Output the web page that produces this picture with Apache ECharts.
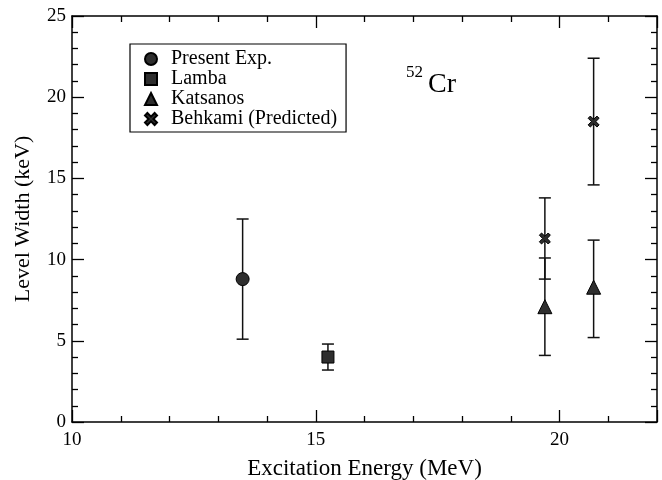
<!DOCTYPE html>
<html>
<head>
<meta charset="utf-8">
<script src="https://cdn.jsdelivr.net/npm/echarts@6/dist/echarts.min.js"></script>
<style>
  html, body { margin: 0; padding: 0; background: #fff; }
  #chart { width: 662px; height: 480px; }
</style>
</head>
<body>
<div id="chart"></div>
<script>
// Level widths of 52Cr versus excitation energy
const seriesNames = ['Present Exp.', 'Lamba', 'Katsanos', 'Behkami (Predicted)'];

// each point: [energy MeV, width keV, lower bound, upper bound]
const presentExp = [[13.5, 8.8, 5.1, 12.5]];
const lamba = [[15.25, 4.0, 3.2, 4.8]];
const katsanos = [[19.7, 7.1, 4.1, 10.1], [20.7, 8.3, 5.2, 11.2]];
const behkami = [[19.7, 11.3, 8.8, 13.8], [20.7, 18.5, 14.6, 22.4]];

const xTicks = [10, 15, 20];
const yTicks = [0, 5, 10, 15, 20, 25];

const SERIF = '"Liberation Serif", "DejaVu Serif", serif';
const INK = '#000';
const crossPath = 'path://M0,2 L2,0 L5,3 L8,0 L10,2 L7,5 L10,8 L8,10 L5,7 L2,10 L0,8 L3,5 Z';
const symbols = ['circle', 'rect', 'triangle', crossPath];

const chart = echarts.init(document.getElementById('chart'), null, { renderer: 'canvas' });

function errorBarSeries(data) {
  return {
    type: 'custom',
    z: 1,
    silent: true,
    data: data.map(d => [d[0], d[2], d[3]]),
    renderItem: function (params, api) {
      const x = api.value(0);
      const lo = api.coord([x, api.value(1)]);
      const hi = api.coord([x, api.value(2)]);
      const cap = 6;
      const style = { stroke: '#111', lineWidth: 1.5 };
      return {
        type: 'group',
        children: [
          { type: 'line', shape: { x1: lo[0], y1: lo[1], x2: hi[0], y2: hi[1] }, style },
          { type: 'line', shape: { x1: lo[0] - cap, y1: lo[1], x2: lo[0] + cap, y2: lo[1] }, style },
          { type: 'line', shape: { x1: hi[0] - cap, y1: hi[1], x2: hi[0] + cap, y2: hi[1] }, style }
        ]
      };
    }
  };
}

function pointSeries(name, data, symbol, size) {
  return {
    name: name,
    type: 'scatter',
    z: 3,
    symbol: symbol,
    symbolSize: size,
    data: data.map(d => [d[0], d[1]]),
    itemStyle: { color: '#2e2e2e', borderColor: '#000', borderWidth: 1, opacity: 1 }
  };
}

const axisCommon = {
  min: 10, max: 22, interval: 5,
  axisLine: { show: true, onZero: false, lineStyle: { color: INK, width: 1.5 } },
  axisTick: { show: true, inside: true, length: 12, lineStyle: { color: INK, width: 1.3 } },
  minorTick: { show: true, splitNumber: 5, length: 6, lineStyle: { color: INK, width: 1.3 } },
  splitLine: { show: false }
};
const yCommon = {
  min: 0, max: 25, interval: 5,
  axisLine: { show: true, onZero: false, lineStyle: { color: INK, width: 1.5 } },
  axisTick: { show: true, inside: true, length: 12, lineStyle: { color: INK, width: 1.3 } },
  minorTick: { show: true, splitNumber: 5, length: 6, lineStyle: { color: INK, width: 1.3 } },
  splitLine: { show: false }
};

const option = {
  backgroundColor: '#fff',
  animation: false,
  textStyle: { fontFamily: SERIF },
  grid: { left: 72, right: 5, top: 16, bottom: 58, outerBoundsMode: 'none', containLabel: false },
  legend: {
    orient: 'vertical',
    left: 130, top: 44,
    padding: [5, 9, 3, 14],
    borderColor: INK, borderWidth: 1.2,
    itemWidth: 12, itemHeight: 12, itemGap: 0,
    textStyle: { fontFamily: SERIF, fontSize: 20, color: INK, lineHeight: 20, padding: [0, 0, 0, 9] },
    data: seriesNames.map((n, i) => ({ name: n, icon: symbols[i] }))
  },
  xAxis: [
    Object.assign({}, axisCommon, {
      type: 'value', position: 'bottom',
      name: 'Excitation Energy (MeV)', nameLocation: 'middle', nameGap: 35,
      nameTextStyle: { fontFamily: SERIF, fontSize: 23, color: INK },
      axisLabel: {
        margin: 9, color: INK, fontFamily: SERIF, fontSize: 19,
        formatter: v => (xTicks.indexOf(v) >= 0 ? String(v) : '')
      }
    }),
    Object.assign({}, axisCommon, {
      type: 'value', position: 'top', axisLabel: { show: false }
    })
  ],
  yAxis: [
    Object.assign({}, yCommon, {
      type: 'value', position: 'left',
      name: 'Level Width (keV)', nameLocation: 'middle', nameGap: 38,
      nameTextStyle: { fontFamily: SERIF, fontSize: 22, color: INK },
      axisLabel: {
        margin: 6, color: INK, fontFamily: SERIF, fontSize: 19,
        formatter: v => (yTicks.indexOf(v) >= 0 ? String(v) : '')
      }
    }),
    Object.assign({}, yCommon, {
      type: 'value', position: 'right', axisLabel: { show: false }
    })
  ],
  graphic: [
    { type: 'text', left: 406, top: 64, style: { text: '52', font: '17px ' + SERIF, fill: INK } },
    { type: 'text', left: 428, top: 71, style: { text: 'Cr', font: '28px ' + SERIF, fill: INK } }
  ],
  series: [
    errorBarSeries(presentExp),
    errorBarSeries(lamba),
    errorBarSeries(katsanos),
    errorBarSeries(behkami),
    pointSeries(seriesNames[0], presentExp, symbols[0], 13),
    pointSeries(seriesNames[1], lamba, symbols[1], 12),
    pointSeries(seriesNames[2], katsanos, symbols[2], 14),
    pointSeries(seriesNames[3], behkami, symbols[3], 11)
  ]
};

chart.setOption(option);
</script>
</body>
</html>
